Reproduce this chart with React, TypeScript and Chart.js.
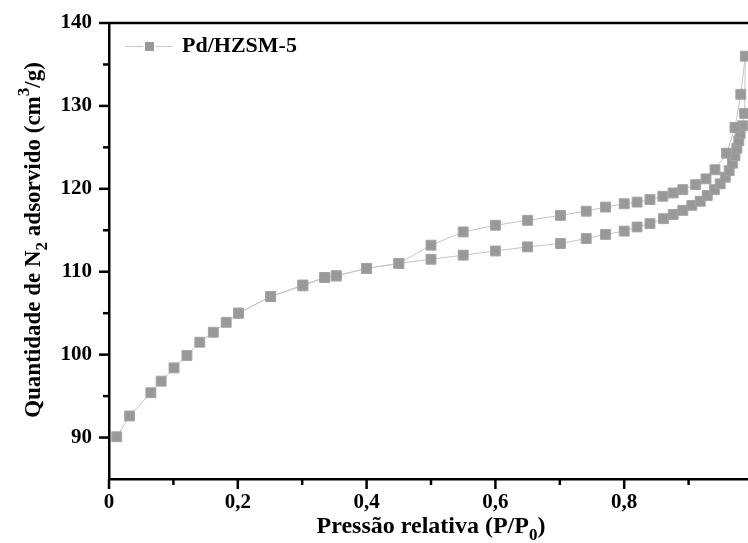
import React, { useEffect, useRef } from 'react';
import { Chart, registerables } from 'chart.js';

Chart.register(...registerables);

const SERIES_LABEL = 'Pd/HZSM-5';

// Adsorption branch (P/P0, cm3/g)
const ADS_P = [0.012, 0.032, 0.065, 0.081, 0.101, 0.121, 0.141, 0.162, 0.182, 0.201, 0.251, 0.301, 0.335, 0.353, 0.400, 0.450, 0.500, 0.550, 0.600, 0.650, 0.701, 0.741, 0.771, 0.800, 0.820, 0.840, 0.861, 0.876, 0.891, 0.905, 0.918, 0.929, 0.940, 0.949, 0.957, 0.963, 0.968, 0.972, 0.975, 0.978, 0.980, 0.984, 0.987, 0.988];
const ADS_V = [90.1, 92.6, 95.4, 96.8, 98.4, 99.9, 101.5, 102.7, 103.9, 105.0, 107.0, 108.3, 109.3, 109.5, 110.4, 111.0, 111.5, 112.0, 112.5, 113.0, 113.4, 114.0, 114.5, 114.9, 115.4, 115.8, 116.4, 116.9, 117.4, 118.0, 118.5, 119.2, 119.9, 120.6, 121.4, 122.2, 123.1, 124.0, 124.9, 125.8, 126.7, 127.6, 129.1, 136.0];

// Desorption branch
const DES_P = [0.981, 0.972, 0.959, 0.941, 0.927, 0.911, 0.891, 0.876, 0.860, 0.840, 0.820, 0.800, 0.771, 0.741, 0.701, 0.650, 0.600, 0.550, 0.500, 0.450, 0.400, 0.353, 0.335, 0.301, 0.251, 0.201];
const DES_V = [131.4, 127.4, 124.3, 122.3, 121.2, 120.5, 119.9, 119.5, 119.1, 118.7, 118.4, 118.2, 117.8, 117.3, 116.8, 116.2, 115.6, 114.8, 113.2, 111.0, 110.4, 109.5, 109.3, 108.4, 107.0, 105.0];

const X_MAJOR = [0, 0.2, 0.4, 0.6, 0.8, 1.0];
const X_MINOR = [0.1, 0.3, 0.5, 0.7, 0.9];
const Y_MAJOR = [90, 100, 110, 120, 130, 140];
const Y_MINOR = [95, 105, 115, 125, 135];
const X_MIN = 0, X_MAX = 1.0, Y_MIN = 85, Y_MAX = 140;

type Part = [string, 'n' | 'sub' | 'sup'];
const X_TITLE: Part[] = [['Pressão relativa (P/P', 'n'], ['0', 'sub'], [')', 'n']];
const Y_TITLE: Part[] = [['Quantidade de N', 'n'], ['2', 'sub'], [' adsorvido (cm', 'n'], ['3', 'sup'], ['/g)', 'n']];

const FONT = '"Liberation Serif", "Times New Roman", serif';

function fmtTick(v: number) {
  if (v === 0) return '0';
  if (v === 1) return '1';
  return v.toFixed(1).replace('.', ',');
}

function partFont(m: string, size: number) {
  return `bold ${m === 'n' ? size : Math.round(size * 0.72)}px ${FONT}`;
}

function drawRich(ctx: CanvasRenderingContext2D, parts: Part[], size: number, cx: number, baseY: number) {
  let w = 0;
  for (const [t, m] of parts) { ctx.font = partFont(m, size); w += ctx.measureText(t).width; }
  let x = cx - w / 2;
  ctx.textAlign = 'left';
  ctx.textBaseline = 'alphabetic';
  for (const [t, m] of parts) {
    ctx.font = partFont(m, size);
    const dy = m === 'sub' ? size * 0.3 : m === 'sup' ? -size * 0.5 : 0;
    ctx.fillText(t, x, baseY + dy);
    x += ctx.measureText(t).width;
  }
}

const decorPlugin = {
  id: 'decor',
  afterDraw(chart: any) {
    const { ctx, chartArea } = chart;
    const xs = chart.scales.x, ys = chart.scales.y;
    ctx.save();
    ctx.strokeStyle = '#000';
    ctx.lineWidth = 2.5;
    // top frame line
    ctx.beginPath();
    ctx.moveTo(chartArea.left, chartArea.top);
    ctx.lineTo(chartArea.right, chartArea.top);
    ctx.stroke();
    // y ticks
    for (const v of Y_MAJOR) {
      const p = ys.getPixelForValue(v);
      ctx.beginPath(); ctx.moveTo(chartArea.left - 10, p); ctx.lineTo(chartArea.left, p); ctx.stroke();
    }
    for (const v of Y_MINOR) {
      const p = ys.getPixelForValue(v);
      ctx.beginPath(); ctx.moveTo(chartArea.left - 6, p); ctx.lineTo(chartArea.left, p); ctx.stroke();
    }
    // x ticks
    for (const v of X_MAJOR) {
      const p = xs.getPixelForValue(v);
      ctx.beginPath(); ctx.moveTo(p, chartArea.bottom); ctx.lineTo(p, chartArea.bottom + 10); ctx.stroke();
    }
    for (const v of X_MINOR) {
      const p = xs.getPixelForValue(v);
      ctx.beginPath(); ctx.moveTo(p, chartArea.bottom); ctx.lineTo(p, chartArea.bottom + 6); ctx.stroke();
    }
    // legend
    const ds = chart.data.datasets[0];
    const ly = 46.5;
    ctx.strokeStyle = '#c4c4c4';
    ctx.lineWidth = 1;
    ctx.beginPath(); ctx.moveTo(125, ly); ctx.lineTo(143, ly); ctx.moveTo(156, ly); ctx.lineTo(172, ly); ctx.stroke();
    ctx.fillStyle = '#999';
    ctx.fillRect(145, ly - 4.5, 9, 9);
    ctx.fillStyle = '#000';
    ctx.font = `bold 22px ${FONT}`;
    ctx.textAlign = 'left';
    ctx.textBaseline = 'middle';
    ctx.fillText(ds.label, 182, ly);
    // x title
    ctx.fillStyle = '#000';
    drawRich(ctx, X_TITLE, 24, (chartArea.left + chartArea.right) / 2, 533);
    // y title
    ctx.translate(40, 240);
    ctx.rotate(-Math.PI / 2);
    drawRich(ctx, Y_TITLE, 23, 0, 0);
    ctx.restore();
  },
};

export default function App() {
  const ref = useRef<HTMLCanvasElement>(null);
  useEffect(() => {
    const canvas = ref.current!;
    const points = [
      ...ADS_P.map((p, i) => ({ x: p, y: ADS_V[i] })),
      ...DES_P.map((p, i) => ({ x: p, y: DES_V[i] })),
    ];
    const tickFont = { family: FONT, size: 21, weight: 'bold' as const };
    const hiddenGrid = { display: true, drawOnChartArea: false, drawTicks: true, tickLength: 10, color: 'rgba(0,0,0,0)' };
    const chart = new Chart(canvas, {
      type: 'scatter',
      data: {
        datasets: [{
          label: SERIES_LABEL,
          data: points,
          showLine: true,
          borderColor: '#c4c4c4',
          borderWidth: 1,
          pointStyle: 'rect',
          pointRadius: 7,
          pointHoverRadius: 7,
          pointBackgroundColor: '#999999',
          pointBorderColor: '#a4a4a4',
          pointBorderWidth: 1,
          clip: false,
        } as any],
      },
      options: {
        animation: false,
        responsive: false,
        devicePixelRatio: 1,
        layout: { padding: { left: 0, top: 23, right: 27, bottom: 0 } },
        plugins: { legend: { display: false }, tooltip: { enabled: false } },
        scales: {
          x: {
            type: 'linear',
            min: X_MIN,
            max: X_MAX,
            afterBuildTicks: (s: any) => { s.ticks = X_MAJOR.map(v => ({ value: v })); },
            afterFit: (s: any) => { s.height = 64; },
            grid: { display: false, drawTicks: false },
            border: { display: true, color: '#000', width: 2.5 },
            ticks: { font: tickFont, color: '#000', padding: 11, maxRotation: 0, autoSkip: false, callback: (v: any) => fmtTick(Number(v)) },
          },
          y: {
            type: 'linear',
            min: Y_MIN,
            max: Y_MAX,
            afterBuildTicks: (s: any) => { s.ticks = Y_MAJOR.map(v => ({ value: v })); },
            afterFit: (s: any) => { s.width = 109; },
            grid: hiddenGrid,
            border: { display: true, color: '#000', width: 2.5 },
            ticks: { font: tickFont, color: '#000', padding: 7, autoSkip: false, callback: (v: any) => String(v) },
          },
        },
      } as any,
      plugins: [decorPlugin],
    });
    return () => chart.destroy();
  }, []);
  return (
    <div style={{ position: 'absolute', left: 0, top: 0, width: 748, height: 543, overflow: 'hidden', background: '#fff' }}>
      <canvas ref={ref} width={780} height={543} style={{ display: 'block', width: 780, height: 543 }} />
    </div>
  );
}
